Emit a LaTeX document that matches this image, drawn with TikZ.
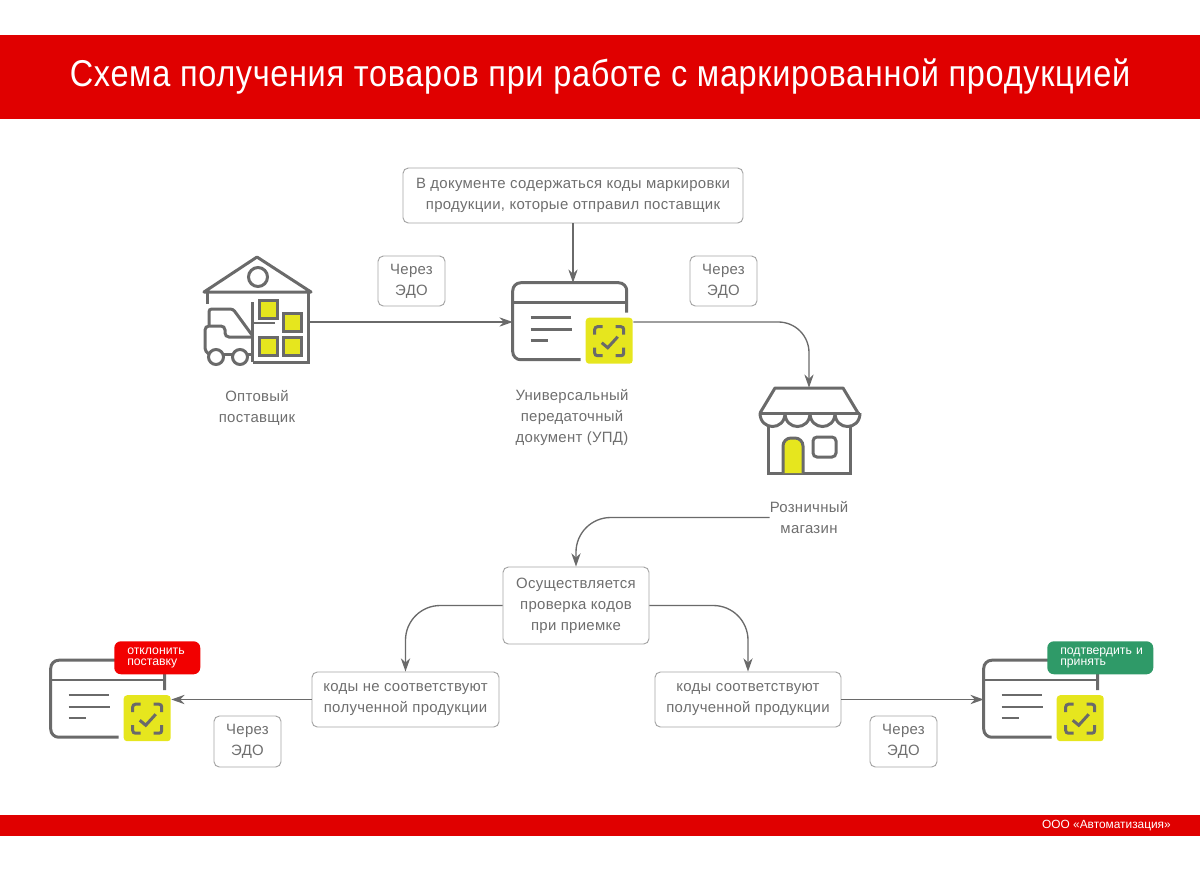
\documentclass[tikz,border=0pt]{standalone}
\usepackage{fontspec}
\setmainfont{Liberation Sans}
\newfontfamily\notefont{Liberation Sans}[LetterSpace=2]
\newfontfamily\titlefont{Liberation Sans}[FakeStretch=0.87,LetterSpace=1.8]
\usetikzlibrary{arrows.meta}
\definecolor{bandred}{HTML}{E00000}
\definecolor{tagred}{HTML}{F20000}
\definecolor{taggreen}{HTML}{2F9A68}
\definecolor{markyellow}{HTML}{E6E61E}
\definecolor{icongray}{HTML}{6A6A6A}
\definecolor{txtgray}{HTML}{6E6E6E}
\definecolor{boxgray}{HTML}{A3A3A3}
\def\px{0.75pt}
\tikzset{
  icon/.style={color=icongray,line width=3*\px},
  flow/.style={color=icongray,line width=1pt,-{Stealth[length=10pt,width=7pt]}},
  note/.style={draw=boxgray,line width=0.7pt,rounded corners=4pt,align=center,text=txtgray,
    inner sep=0pt,font=\notefont\fontsize{11.2}{15.75}\selectfont},
  label/.style={align=center,text=txtgray,inner sep=0pt,font=\notefont\fontsize{11.2}{15.75}\selectfont},
  iconbox/.style={inner sep=0pt,minimum width=#1*\px,minimum height=78*\px},
  cardtag/.style={rounded corners=5pt,text=white,align=left,anchor=north west,inner ysep=0pt,inner xsep=13*\px,
    text width=#1*\px-26*\px,minimum height=33*\px,font=\fontsize{9.2}{8.25}\selectfont},
  doccard/.pic={
    \draw[icon,rounded corners=6pt] (68,77)--(0,77)--(0,0)--(114,0)--(114,30);
    \draw[icon,line width=2.5*\px] (0,20)--(114,20);
    \draw[icon,line width=2.5*\px] (18,35)--(58,35);
    \draw[icon,line width=2.5*\px] (18,47)--(59,47);
    \draw[icon,line width=2.5*\px] (18,58)--(35,58);
    \fill[markyellow,rounded corners=2.5pt] (73,35) rectangle (120,81);
    \draw[icon,rounded corners=2pt] (82,52)--(82,44)--(90,44);
    \draw[icon,rounded corners=2pt] (103,44)--(111,44)--(111,52);
    \draw[icon,rounded corners=2pt] (82,65)--(82,73)--(90,73);
    \draw[icon,rounded corners=2pt] (103,73)--(111,73)--(111,65);
    \draw[icon] (89,60)--(95,65)--(105,54);
  }
}
\begin{document}
\begin{tikzpicture}[x=0.75pt,y=-0.75pt]
\useasboundingbox (0,0) rectangle (1200,869);
% bands
\fill[bandred] (0,35) rectangle (1200,119);
\fill[bandred] (0,815) rectangle (1200,836);
\node[text=white,inner sep=0pt,font=\titlefont\fontsize{28}{30}\selectfont] (title) at (600,77) {Схема получения товаров при работе с маркированной продукцией};
\node[text=white,inner sep=0pt,anchor=east,font=\fontsize{8.9}{10}\selectfont] (firm) at (1171,826) {ООО «Автоматизация»};
% anchors of the icons
\node[iconbox=106] (wholesale) at (257,322) {};
\node[iconbox=120] (updcard) at (573,322) {};
\node[iconbox=100,minimum height=86*\px] (shop) at (809,431) {};
\node[iconbox=120] (rejectcard) at (111,699.5) {};
\node[iconbox=120] (acceptcard) at (1044,699.5) {};
% boxes
\node[note,minimum width=340*\px,minimum height=55*\px] (upddoc) at (573,195.5) {В документе содержаться коды маркировки\\продукции, которые отправил поставщик};
\node[note,minimum width=67*\px,minimum height=50*\px] (edoa) at (411.5,281) {Через\\ЭДО};
\node[note,minimum width=67*\px,minimum height=50*\px] (edob) at (723.5,281) {Через\\ЭДО};
\node[note,minimum width=146*\px,minimum height=77*\px] (check) at (576,605.5) {Осуществляется\\проверка кодов\\при приемке};
\node[note,minimum width=187*\px,minimum height=55*\px] (nomatch) at (405.5,699.5) {коды не соответствуют\\полученной продукции};
\node[note,minimum width=186*\px,minimum height=55*\px] (match) at (748,699.5) {коды соответствуют\\полученной продукции};
\node[note,minimum width=67*\px,minimum height=51*\px] (edoc) at (247.5,741.5) {Через\\ЭДО};
\node[note,minimum width=67*\px,minimum height=51*\px] (edod) at (903.5,741.5) {Через\\ЭДО};
% captions
\node[label] (wholesalelbl) at (257,407.5) {Оптовый\\поставщик};
\node[label] (updlbl) at (572,417.5) {Универсальный\\передаточный\\документ (УПД)};
\node[label] (shoplbl) at (809,517.5) {Розничный\\магазин};
% warehouse
\draw[icon,line join=round] (204,292)--(257,257)--(311,292)--cycle;
\draw[icon] (258,277) circle (9.5);
\draw[icon] (207,292)--(207,304);
\draw[icon] (308,292)--(308,362)--(253,362);
\draw[icon] (252,302)--(252,362);
\draw[icon,line width=2.5*\px] (252,323)--(275,323);
\foreach \bx/\by in {259/300,283/313,259/337,283/337}
  \draw[icon,fill=markyellow] (\bx,\by) rectangle ++(18,18);
\draw[icon,rounded corners=2pt] (209,326)--(209,309)--(233,309)--(252,335);
\draw[icon,rounded corners=3pt] (252,337)--(225,337)--(225,326)--(205,326)--(205,352)--(209,354);
\draw[icon] (222,354)--(233,354);
\draw[icon] (247,354)--(252,354);
\draw[icon] (216,357) circle (7.5);
\draw[icon] (240,357) circle (7.5);
% shop
\draw[icon,line join=round] (760,413)--(775,388)--(843,388)--(858,413);
\draw[icon] (759,413)--(860,413);
\draw[icon] (760,413) .. controls (760,431) and (785,431) .. (785,413);
\draw[icon] (785,413) .. controls (785,431) and (810,431) .. (810,413);
\draw[icon] (810,413) .. controls (810,431) and (835,431) .. (835,413);
\draw[icon] (835,413) .. controls (835,431) and (860,431) .. (860,413);
\draw[icon] (768,427)--(768,473)--(850,473)--(850,427);
\draw[icon,fill=markyellow,rounded corners=6pt] (783,473)--(783,438)--(803,438)--(803,473);
\draw[icon,rounded corners=3pt] (813,437) rectangle (836,457);
% cards
\pic at (updcard.north west) {doccard};
\pic at (rejectcard.north west) {doccard};
\pic at (acceptcard.north west) {doccard};
\node[cardtag=86,fill=tagred] (rejecttag) at (114,641) {отклонить\\поставку};
\node[cardtag=106,fill=taggreen] (accepttag) at (1047,641) {\mbox{подтвердить и}\\принять};
% connectors
\draw[flow] (upddoc)--(updcard);
\draw[flow] (wholesale)--(updcard);
\draw[flow,rounded corners=23pt] (updcard.east)-|(shop.north);
\draw[flow,rounded corners=26pt] (shoplbl.west)-|(check.north);
\draw[flow,rounded corners=26pt] (check.west)-|(nomatch.north);
\draw[flow,rounded corners=26pt] (check.east)-|(match.north);
\draw[flow] (nomatch.west)--(rejectcard.east);
\draw[flow] (match.east)--(acceptcard.west);
\end{tikzpicture}
\end{document}
